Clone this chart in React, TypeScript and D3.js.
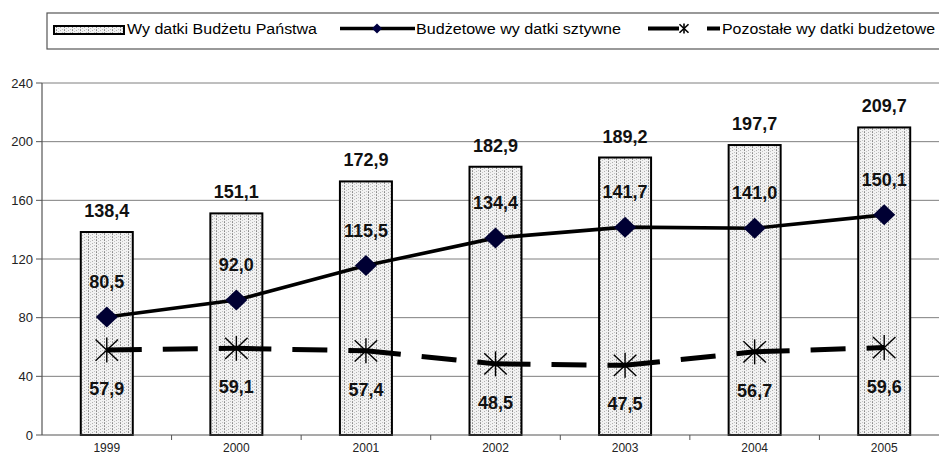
import React from "react";
import * as d3 from "d3";

const years = ["1999", "2000", "2001", "2002", "2003", "2004", "2005"];
const totalSpending = [138.4, 151.1, 172.9, 182.9, 189.2, 197.7, 209.7];
const rigidSpending = [80.5, 92.0, 115.5, 134.4, 141.7, 141.0, 150.1];
const otherSpending = [57.9, 59.1, 57.4, 48.5, 47.5, 56.7, 59.6];
const yTicks = [0, 40, 80, 120, 160, 200, 240];

const legendLabels = [
  "Wy datki Budżetu Państwa",
  "Budżetowe wy datki sztywne",
  "Pozostałe wy datki budżetowe",
];

const W = 939;
const H = 459;
const fmt = (v: number) => v.toFixed(1).replace(".", ",");

export default function App() {
  const x = d3.scaleBand<string>().domain(years).range([42, 949]).paddingInner(0).paddingOuter(0);
  const y = d3.scaleLinear().domain([0, 240]).range([435, 83]);
  const cx = (i: number) => (x(years[i]) ?? 0) + x.bandwidth() / 2;
  const barW = 52;

  const rigidLine = d3
    .line<number>()
    .x((_, i) => cx(i))
    .y((d) => y(d));

  const diamond = (px: number, py: number, rx: number, ry: number) =>
    `M${px},${py - ry}L${px + rx},${py}L${px},${py + ry}L${px - rx},${py}Z`;

  const star = (px: number, py: number, r: number, key: string, sw = 1.4) => (
    <g key={key} stroke="#000" strokeWidth={sw}>
      <line x1={px} y1={py - r} x2={px} y2={py + r} />
      <line x1={px - r * 0.9} y1={py - r * 0.85} x2={px + r * 0.9} y2={py + r * 0.85} />
      <line x1={px - r * 0.9} y1={py + r * 0.85} x2={px + r * 0.9} y2={py - r * 0.85} />
    </g>
  );

  const font = "'Liberation Sans', Arial, sans-serif";

  return (
    <svg
      width={W}
      height={H}
      style={{ position: "absolute", left: 0, top: 0, background: "#fff" }}
      fontFamily={font}
    >
      <defs>
        <pattern id="dots" width="8" height="3" patternUnits="userSpaceOnUse">
          <rect width="8" height="3" fill="#f2f2f2" />
          <rect x="0" y="0" width="1" height="1" fill="#8a8a8a" />
          <rect x="2" y="1" width="1" height="1" fill="#c4c4c4" />
          <rect x="4" y="0" width="1" height="1" fill="#b0b0b0" />
          <rect x="6" y="2" width="1" height="1" fill="#c4c4c4" />
          <rect x="0" y="2" width="1" height="1" fill="#a0a0a0" />
        </pattern>
      </defs>

      {/* legend */}
      <rect x={47} y={13} width={920} height={36} fill="#fff" stroke="#555" strokeWidth={1.2} />
      <rect x={54} y={26} width={70} height={8} fill="url(#dots)" stroke="#000" strokeWidth={2} />
      <text x={127} y={34} fontSize={14} textLength={190} lengthAdjust="spacingAndGlyphs">
        {legendLabels[0]}
      </text>
      <line x1={340} y1={28.5} x2={415} y2={28.5} stroke="#000" strokeWidth={3.4} />
      <path d={diamond(377, 28.5, 5, 5)} fill="#000040" />
      <text x={416} y={34} fontSize={14} textLength={205} lengthAdjust="spacingAndGlyphs">
        {legendLabels[1]}
      </text>
      <line x1={648} y1={28.5} x2={720} y2={28.5} stroke="#000" strokeWidth={4} strokeDasharray="31,28" />
      {star(684, 28.5, 5, "lg", 1.6)}
      <text x={722} y={34} fontSize={14} textLength={213} lengthAdjust="spacingAndGlyphs">
        {legendLabels[2]}
      </text>

      {/* grid */}
      {yTicks.map((t) => (
        <g key={t}>
          {t > 0 && <line x1={42} x2={W} y1={y(t)} y2={y(t)} stroke="#7f7f7f" strokeWidth={1} />}
          <line x1={36} x2={42} y1={y(t)} y2={y(t)} stroke="#555" strokeWidth={1} />
          <text x={33} y={y(t) + 4.5} fontSize={13} textAnchor="end" fill="#222">
            {t}
          </text>
        </g>
      ))}

      {/* bars */}
      {totalSpending.map((v, i) => (
        <rect
          key={years[i]}
          x={cx(i) - barW / 2}
          y={y(v)}
          width={barW}
          height={y(0) - y(v)}
          fill="url(#dots)"
          stroke="#000"
          strokeWidth={2}
        />
      ))}

      {/* axes */}
      <line x1={42} x2={42} y1={y(240)} y2={y(0)} stroke="#555" strokeWidth={1.2} />
      <line x1={42} x2={W} y1={y(0)} y2={y(0)} stroke="#555" strokeWidth={1.2} />
      {years.map((yr, i) => (
        <g key={yr}>
          <line
            x1={(x(yr) ?? 0) + x.bandwidth()}
            x2={(x(yr) ?? 0) + x.bandwidth()}
            y1={y(0)}
            y2={y(0) + 5}
            stroke="#555"
          />
          <text x={cx(i)} y={452} fontSize={12} textAnchor="middle" fill="#222">
            {yr}
          </text>
        </g>
      ))}

      {/* other spending: dashed, pattern restarts on each segment */}
      {otherSpending.slice(0, -1).map((v, i) => (
        <line
          key={"seg" + i}
          x1={cx(i)}
          y1={y(v)}
          x2={cx(i + 1)}
          y2={y(otherSpending[i + 1])}
          stroke="#000"
          strokeWidth={5}
          strokeDasharray="35,21"
        />
      ))}
      {otherSpending.map((v, i) => star(cx(i), y(v), 12.5, "st" + i, 1.4))}

      {/* rigid spending */}
      <path d={rigidLine(rigidSpending) ?? ""} fill="none" stroke="#000" strokeWidth={3.6} />
      {rigidSpending.map((v, i) => (
        <path key={"dm" + i} d={diamond(cx(i), y(v), 11, 10.5)} fill="#000033" />
      ))}

      {/* data labels */}
      <g fontSize={18} fontWeight="bold" textAnchor="middle" fill="#111">
        {totalSpending.map((v, i) => (
          <text key={"tl" + i} x={cx(i)} y={y(v) - 15}>
            {fmt(v)}
          </text>
        ))}
        {rigidSpending.map((v, i) => (
          <text key={"rl" + i} x={cx(i)} y={y(v) - 29}>
            {fmt(v)}
          </text>
        ))}
        {otherSpending.map((v, i) => (
          <text key={"ol" + i} x={cx(i)} y={y(v) + 45}>
            {fmt(v)}
          </text>
        ))}
      </g>
    </svg>
  );
}
